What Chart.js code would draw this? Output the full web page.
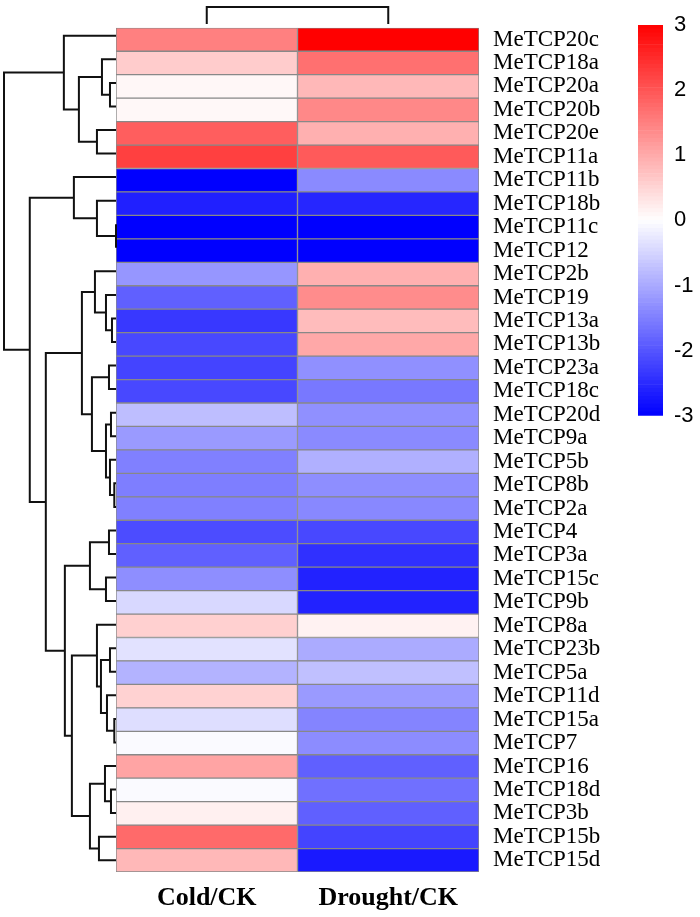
<!DOCTYPE html>
<html>
<head>
<meta charset="utf-8">
<script src="https://cdn.jsdelivr.net/npm/chart.js@4.4.1/dist/chart.umd.min.js"></script>
<style>
  body { margin: 0; background: #fff; }
  #wrap { position: relative; width: 700px; height: 917px; }
  #wrap canvas { position: absolute; }
</style>
</head>
<body>
<div id="wrap">
  <canvas id="heat" width="700" height="917" style="left:0;top:0"></canvas>
  <canvas id="rowTree" width="120" height="917" style="left:0;top:0"></canvas>
  <canvas id="colTree" width="700" height="30" style="left:0;top:0"></canvas>
  <canvas id="scaleBar" width="100" height="440" style="left:600px;top:0"></canvas>
</div>
<script>
const genes = [
  'MeTCP20c', 'MeTCP18a', 'MeTCP20a', 'MeTCP20b', 'MeTCP20e', 'MeTCP11a',
  'MeTCP11b', 'MeTCP18b', 'MeTCP11c', 'MeTCP12', 'MeTCP2b', 'MeTCP19',
  'MeTCP13a', 'MeTCP13b', 'MeTCP23a', 'MeTCP18c', 'MeTCP20d', 'MeTCP9a',
  'MeTCP5b', 'MeTCP8b', 'MeTCP2a', 'MeTCP4', 'MeTCP3a', 'MeTCP15c',
  'MeTCP9b', 'MeTCP8a', 'MeTCP23b', 'MeTCP5a', 'MeTCP11d', 'MeTCP15a',
  'MeTCP7', 'MeTCP16', 'MeTCP18d', 'MeTCP3b', 'MeTCP15b', 'MeTCP15d'
];
const conditions = ['Cold/CK', 'Drought/CK'];

const coldValues = [
  1.5, 0.6, 0.1, 0.08, 1.9, 2.25,
  -3, -2.62, -3, -3, -1.24, -1.87,
  -2.34, -2.15, -2.2, -2.15, -0.76, -1.19,
  -1.5, -1.52, -1.5, -2.1, -1.87, -1.33,
  -0.46, 0.55, -0.34, -0.9, 0.53, -0.39,
  -0.06, 1.07, -0.06, 0.18, 1.75, 0.84
];
const droughtValues = [
  3.0, 1.68, 0.84, 1.4, 0.93, 1.94,
  -1.38, -2.55, -3, -3, 0.93, 1.35,
  0.79, 1.02, -1.31, -1.59, -1.31, -1.38,
  -0.93, -1.33, -1.4, -2.15, -2.44, -2.6,
  -2.6, 0.15, -0.99, -0.74, -1.19, -1.45,
  -1.35, -1.87, -1.68, -1.87, -2.2, -2.7
];

// row clustering: [child a, child b, merge height], leaves 0..35, new nodes from 36 on
const rowLinkage = [
  [8, 9, 0], [19, 20, 1.7], [29, 30, 1.7], [12, 13, 4], [16, 17, 5],
  [32, 33, 5], [2, 3, 6], [18, 37, 6], [26, 27, 6], [14, 15, 7],
  [21, 22, 7], [28, 38, 9], [11, 39, 10], [40, 43, 10], [23, 24, 10],
  [31, 41, 11], [1, 42, 14], [44, 47, 15], [34, 35, 17], [4, 5, 19],
  [7, 36, 19], [25, 53, 19], [10, 48, 21], [45, 49, 24], [46, 50, 26],
  [51, 54, 26], [58, 59, 34], [52, 55, 37], [6, 56, 42], [57, 61, 44],
  [60, 65, 51], [0, 63, 52], [62, 66, 70], [64, 68, 86], [67, 69, 111.7]
];
const colLinkage = [[0, 1, 1]];

const legendMin = -3;
const legendMax = 3;
const legendSteps = 100;

function heatColor(v) {
  const t = Math.max(-1, Math.min(1, v / legendMax));
  if (t >= 0) {
    const c = Math.round(255 * (1 - t));
    return `rgb(255,${c},${c})`;
  }
  const c = Math.round(255 * (1 + t));
  return `rgb(${c},${c},255)`;
}

// turn a linkage table into elbow paths, leaf i sits at i + 0.5
function treePaths(linkage, nLeaves) {
  const pos = [], hgt = [];
  for (let i = 0; i < nLeaves; i++) { pos.push(i + 0.5); hgt.push(0); }
  return linkage.map(([a, b, h]) => {
    pos.push((pos[a] + pos[b]) / 2);
    hgt.push(h);
    return [
      { p: pos[a], h: hgt[a] }, { p: pos[a], h: h },
      { p: pos[b], h: h }, { p: pos[b], h: hgt[b] }
    ];
  });
}

const lineStyle = {
  type: 'scatter',
  showLine: true,
  borderColor: '#111',
  borderWidth: 2,
  pointRadius: 0,
  tension: 0,
  clip: false,
  borderJoinStyle: 'miter'
};

// heatmap
new Chart(document.getElementById('heat'), {
  type: 'bar',
  data: {
    labels: genes,
    datasets: [coldValues, droughtValues].map((vals, i) => ({
      label: conditions[i],
      data: vals.map(() => 1),
      backgroundColor: vals.map(heatColor),
      borderColor: '#888',
      borderWidth: 1,
      borderSkipped: false,
      barPercentage: 1,
      categoryPercentage: 1,
      xAxisID: 'x',
      yAxisID: 'y'
    }))
  },
  options: {
    indexAxis: 'y',
    responsive: false,
    animation: false,
    events: [],
    layout: { padding: { left: 116, top: 24, right: 0, bottom: 0 } },
    plugins: { legend: { display: false }, tooltip: { enabled: false } },
    scales: {
      x: { type: 'linear', min: 0, max: 2, stacked: true, display: false },
      xLab: {
        type: 'category',
        labels: conditions,
        position: 'bottom',
        offset: true,
        grid: { display: false, drawTicks: false },
        border: { display: false },
        ticks: { color: '#000', padding: 11, font: { family: 'Liberation Serif', size: 26, weight: 'bold' } },
        afterFit: s => { s.height = 45; }
      },
      y: {
        type: 'category',
        position: 'right',
        stacked: true,
        offset: true,
        grid: { display: false, drawTicks: false },
        border: { display: false },
        ticks: { color: '#000', padding: 14, autoSkip: false, font: { family: 'Liberation Serif', size: 23 } },
        afterFit: s => { s.width = 221; }
      }
    }
  }
});

// row dendrogram
const rowMax = Math.max(...rowLinkage.map(r => r[2]));
new Chart(document.getElementById('rowTree'), {
  type: 'scatter',
  data: {
    datasets: treePaths(rowLinkage, genes.length).map(path => ({
      ...lineStyle,
      data: path.map(pt => ({ x: pt.h, y: pt.p }))
    }))
  },
  options: {
    responsive: false,
    animation: false,
    events: [],
    layout: { padding: { left: 4, right: 4, top: 24, bottom: 45 } },
    plugins: { legend: { display: false }, tooltip: { enabled: false } },
    scales: {
      x: { type: 'linear', min: 0, max: rowMax, reverse: true, display: false },
      y: { type: 'linear', min: 0, max: genes.length, reverse: true, display: false }
    }
  }
});

// column dendrogram
const colMax = Math.max(...colLinkage.map(r => r[2]));
new Chart(document.getElementById('colTree'), {
  type: 'scatter',
  data: {
    datasets: treePaths(colLinkage, conditions.length).map(path => ({
      ...lineStyle,
      data: path.map(pt => ({ x: pt.p, y: pt.h }))
    }))
  },
  options: {
    responsive: false,
    animation: false,
    events: [],
    layout: { padding: { left: 116, right: 221, top: 7, bottom: 6 } },
    plugins: { legend: { display: false }, tooltip: { enabled: false } },
    scales: {
      x: { type: 'linear', min: 0, max: conditions.length, display: false },
      y: { type: 'linear', min: 0, max: colMax, display: false }
    }
  }
});

// colour key
const stepSize = (legendMax - legendMin) / legendSteps;
const keyBands = [];
for (let i = 0; i < legendSteps; i++) {
  keyBands.push([legendMin + i * stepSize, legendMin + (i + 1) * stepSize]);
}
new Chart(document.getElementById('scaleBar'), {
  type: 'bar',
  data: {
    labels: [''],
    datasets: keyBands.map(b => ({
      data: [b],
      backgroundColor: heatColor((b[0] + b[1]) / 2),
      borderWidth: 0,
      barPercentage: 1,
      categoryPercentage: 1,
      grouped: false
    }))
  },
  options: {
    responsive: false,
    animation: false,
    events: [],
    layout: { padding: { left: 38, right: 0, top: 25, bottom: 23 } },
    plugins: { legend: { display: false }, tooltip: { enabled: false } },
    scales: {
      x: { display: false },
      y: {
        type: 'linear',
        min: legendMin,
        max: legendMax,
        position: 'right',
        grid: { display: false, drawTicks: false },
        border: { display: false },
        ticks: { stepSize: 1, color: '#000', padding: 11, font: { family: 'Liberation Sans', size: 22 } },
        afterFit: s => { s.width = 37; }
      }
    }
  }
});
</script>
</body>
</html>
